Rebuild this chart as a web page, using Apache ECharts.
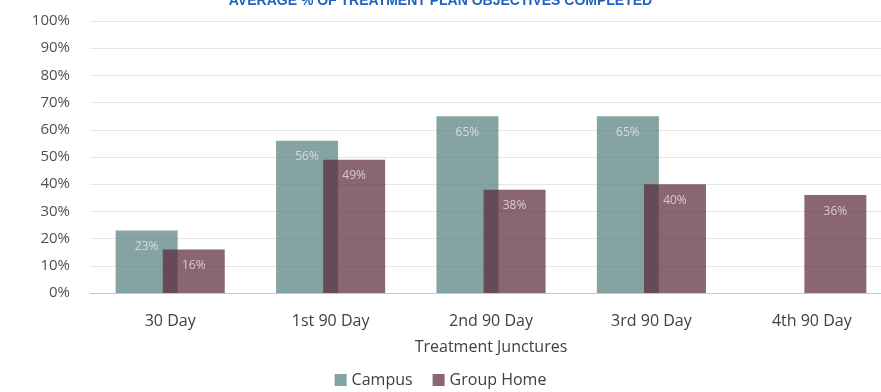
<!DOCTYPE html>
<html><head><meta charset="utf-8">
<script src="https://cdn.jsdelivr.net/npm/echarts@6/dist/echarts.min.js"></script>
<style>html,body{margin:0;padding:0;background:#fff}#c{width:881px;height:392px}</style>
</head><body><div id="c"></div>
<script>
var categories = ['30 Day', '1st 90 Day', '2nd 90 Day', '3rd 90 Day', '4th 90 Day'];
var campus = [23, 56, 65, 65, null];
var groupHome = [16, 49, 38, 40, 36];
var yTicks = [0, 10, 20, 30, 40, 50, 60, 70, 80, 90, 100];

var chart = echarts.init(document.getElementById('c'));
var font = '"Open Sans", "Noto Sans", sans-serif';
var lbl = {show: true, position: 'insideTop', distance: 10, color: '#f4f4f4', fontSize: 12, fontFamily: font, formatter: function(p){return p.value + '%';}};
chart.setOption({
  animation: false,
  title: {text: 'AVERAGE % OF TREATMENT PLAN OBJECTIVES COMPLETED', left: 'center', top: -11,
    textStyle: {color: '#1f62c0', fontSize: 14, fontWeight: 'bold', fontFamily: '"Liberation Sans", sans-serif'}},
  legend: {bottom: -1, left: 'center', itemWidth: 12, itemHeight: 12, itemGap: 20, icon: 'rect',
    textStyle: {fontSize: 16, color: '#404040', fontFamily: font},
    data: ['Campus', 'Group Home']},
  grid: {left: 90, right: -11, top: 21, bottom: 99, outerBoundsMode: 'none', containLabel: false},
  xAxis: {type: 'category', data: categories,
    name: 'Treatment Junctures', nameLocation: 'middle', nameGap: 46,
    nameTextStyle: {fontSize: 16, color: '#404040', fontFamily: font},
    axisLine: {lineStyle: {color: '#c8c8c8', width: 1}}, axisTick: {show: false},
    axisLabel: {fontSize: 16, color: '#404040', margin: 20, fontFamily: font}},
  yAxis: {type: 'value', min: yTicks[0], max: yTicks[yTicks.length-1], interval: 10,
    axisLabel: {formatter: '{value}%', fontSize: 15, color: '#505050', margin: 20, fontFamily: font},
    splitLine: {lineStyle: {color: '#e6e6e6'}}, axisLine: {show: false}, axisTick: {show: false}},
  series: [
    {name: 'Campus', type: 'bar', data: campus, barWidth: 62, barGap: '-24%',
      itemStyle: {color: 'rgb(85,125,125)', opacity: 0.71}, label: lbl},
    {name: 'Group Home', type: 'bar', data: groupHome, barWidth: 62,
      itemStyle: {color: 'rgb(90,38,56)', opacity: 0.71}, label: lbl}
  ]
});
</script></body></html>
